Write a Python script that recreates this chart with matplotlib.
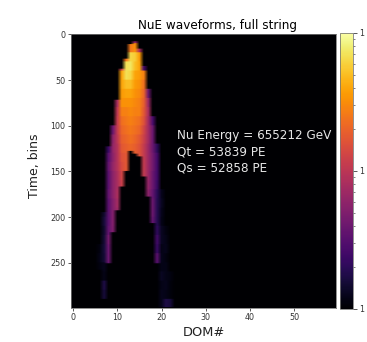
import matplotlib
matplotlib.use('Agg')
import matplotlib.pyplot as plt
from matplotlib.colors import LogNorm
import numpy as np

n_doms = 60
n_bins = 300

# colour level (percent of the log scale) per 10-bin row, starting at the row of first_bin
dom_6 = [3, 4, 3]
dom_7 = [8, 10, 8, 9, 10, 9, 5, 4, 12, 10]
dom_8 = [18, 25, 28, 26, 26, 28, 26, 26, 26, 28, 32, 30, 30, 28]
dom_9 = [30, 38, 40, 38, 40, 38, 38, 38, 36, 36, 36, 35]
dom_10 = [45, 50, 52, 52, 50, 48, 48, 48, 46, 45, 46, 44, 42]
dom_11 = [55, 80, 80, 78, 76, 72, 68, 66, 64, 62, 60, 58, 56, 54]
dom_12 = [70, 92, 92, 85, 80, 76, 72, 70, 68, 66, 64, 62, 62]
dom_13 = [70, 90, 93, 90, 85, 80, 76, 74, 72, 70, 68, 66]
dom_14 = [40, 75, 88, 85, 80, 78, 76, 74, 72, 70, 68, 66, 64, 64]
dom_15 = [45, 78, 80, 78, 76, 74, 72, 72, 68, 66, 62, 60, 60]
dom_16 = [20, 72, 68, 66, 64, 62, 60, 56, 54, 52, 52, 52, 52]
dom_17 = [30, 42, 46, 44, 44, 44, 42, 42, 42, 42, 40, 38]
dom_18 = [22, 30, 30, 30, 32, 32, 30, 30, 28, 30, 30, 28]
dom_19 = [15, 20, 20, 20, 18, 15, 14, 14, 14, 16, 20, 18, 26, 24]
dom_20 = [5, 6, 5, 4, 6, 6, 4, 5, 4, 6, 4, 5, 5]
dom_21 = [3, 4, 5, 3, 4, 4, 5, 4, 12]
dom_22 = [3, 2, 2, 10]

dom_numbers = [6, 7, 8, 9, 10, 11, 12, 13, 14, 15, 16, 17, 18, 19, 20, 21, 22]
dom_levels = [dom_6, dom_7, dom_8, dom_9, dom_10, dom_11, dom_12, dom_13, dom_14,
              dom_15, dom_16, dom_17, dom_18, dom_19, dom_20, dom_21, dom_22]
first_bin = [230, 195, 123, 100, 72, 38, 27, 11, 8, 16, 35, 60, 90, 120, 170, 210, 260]
last_bin = [258, 296, 251, 217, 193, 167, 150, 128, 131, 134, 156, 178, 207, 251, 299, 299, 299]

info_lines = ['Nu Energy = 655212 GeV', 'Qt = 53839 PE', 'Qs = 52858 PE']
x_ticks = [0, 10, 20, 30, 40, 50]
y_ticks = [0, 50, 100, 150, 200, 250]

# build the waveform image, one column per DOM
image = np.ones((n_bins, n_doms))
for dom, levels, start, stop in zip(dom_numbers, dom_levels, first_bin, last_bin):
    first_row = start // 10
    for i, level in enumerate(levels):
        lo = max(start, (first_row + i) * 10)
        hi = min(stop, (first_row + i + 1) * 10)
        image[lo:hi, dom] = 10 ** (level / 50)

W, H = 367, 342
fig = plt.figure(figsize=(W / 72, H / 72), dpi=72)
ax = fig.add_axes([71 / W, 1 - 308 / H, 265 / W, 274 / H])
cax = fig.add_axes([339.5 / W, 1 - 309 / H, 13.5 / W, 276 / H])

im = ax.imshow(image, cmap='inferno', norm=LogNorm(vmin=1, vmax=100),
               aspect='auto', interpolation='bilinear', interpolation_stage='rgba')
ax.set_xticks(x_ticks)
ax.set_yticks(y_ticks)
ax.tick_params(labelsize=8, length=3, width=0.8, pad=2.5, color='#333333', labelcolor='#333333')
ax.set_title('NuE waveforms, full string', fontsize=12, pad=5, x=(217 - 71) / 265)
ax.set_xlabel('DOM#', fontsize=13, labelpad=4, color='#222222')
ax.set_ylabel('Time, bins', fontsize=12.5, labelpad=9, color='#222222', y=0.52)
for spine in ax.spines.values():
    spine.set_color('#777777')

ax.text(23.5, 111, info_lines[0], color='#e6e6e6', fontsize=12, va='center')
ax.text(23.5, 128.5, info_lines[1], color='#e6e6e6', fontsize=12, va='center')
ax.text(23.5, 146, info_lines[2], color='#e6e6e6', fontsize=12, va='center')

cb = fig.colorbar(im, cax=cax)
cb.set_ticks([1, 10, 100])
cb.set_ticklabels(['1', '1', '1'])
cb.ax.tick_params(labelsize=8, length=3.5, pad=3, color='#333333', labelcolor='#333333')
cb.ax.tick_params(which='minor', length=2, color='#333333')
cb.outline.set_edgecolor('#777777')

fig.savefig('out.png', dpi=72)
